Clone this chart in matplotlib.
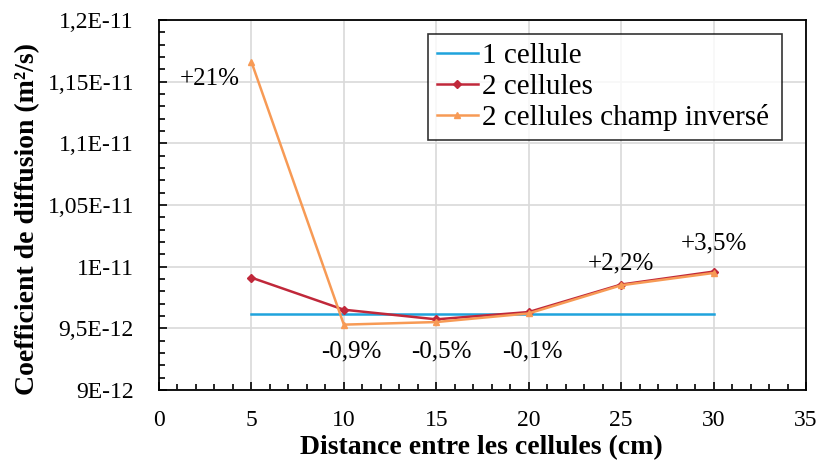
import numpy as np
import matplotlib.pyplot as plt
from matplotlib.ticker import MultipleLocator

distances = [5, 10, 15, 20, 25, 30]
one_cell = [9.618e-12] * 6
two_cells = [9.911e-12, 9.651e-12, 9.573e-12, 9.632e-12, 9.855e-12, 9.960e-12]
two_cells_inv = [1.166e-11, 9.530e-12, 9.551e-12, 9.621e-12, 9.849e-12, 9.949e-12]

y_ticks = [9.0e-12, 9.5e-12, 1.0e-11, 1.05e-11, 1.1e-11, 1.15e-11, 1.2e-11]
y_ticklabels = ["9E-12", "9,5E-12", "1E-11", "1,05E-11", "1,1E-11", "1,15E-11", "1,2E-11"]

annot_text = ["+21%", "-0,9%", "-0,5%", "-0,1%", "+2,2%", "+3,5%"]
annot_x = [2.76, 10.4, 15.3, 20.2, 25.0, 30.0]
annot_y = [1.152e-11, 9.31e-12, 9.31e-12, 9.31e-12, 1.0024e-11, 1.0185e-11]

plt.rcParams["font.family"] = ["Liberation Serif", "DejaVu Serif"]

fig = plt.figure(figsize=(8.2, 4.7), dpi=100)
ax = fig.add_axes([159 / 820, 80 / 470, 647 / 820, 370 / 470])

ax.plot(distances, one_cell, color="#1fa3dc", lw=1.8, label="1 cellule")
ax.plot(distances, two_cells, color="#c0283a", lw=1.8, marker="D", ms=4,
        label="2 cellules")
ax.plot(distances, two_cells_inv, color="#f79a55", lw=1.8, marker="^", ms=5,
        label="2 cellules champ inversé")

for t, x, y in zip(annot_text, annot_x, annot_y):
    ax.text(x, y, t, ha="center", va="center", fontsize=18)

ax.set_xlim(0, 35)
ax.set_ylim(9e-12, 1.2e-11)
ax.xaxis.set_major_locator(MultipleLocator(5))
ax.xaxis.set_minor_locator(MultipleLocator(1))
ax.set_yticks(y_ticks)
ax.set_yticklabels(y_ticklabels)
ax.yaxis.set_minor_locator(MultipleLocator(1e-13))
ax.tick_params(which="both", direction="in", labelsize=17, top=False, right=False,
               width=1.2)
ax.tick_params(which="major", length=6)
ax.tick_params(which="minor", length=4)
ax.tick_params(axis="x", which="major", pad=14.5)
ax.tick_params(axis="y", which="major", pad=18)
ax.grid(True, which="major", color="#d9d9d9", lw=1.2)
ax.set_axisbelow(True)
for s in ax.spines.values():
    s.set_linewidth(1.3)
    s.set_color("black")

ax.set_xlabel("Distance entre les cellules (cm)", fontsize=20, fontweight="bold")
ax.set_ylabel("Coefficient de diffusion (m²/s)", fontsize=20, fontweight="bold")
ax.xaxis.set_label_coords(0.499, -0.122)
ax.yaxis.set_label_coords(-0.184, 0.462)

leg = ax.legend(loc="upper left", bbox_to_anchor=(0.4158, 0.0, 0.5471, 0.962),
                mode="expand", fontsize=21, frameon=True, fancybox=False,
                handlelength=1.4, handletextpad=0.15, borderpad=0.3,
                labelspacing=0.15, borderaxespad=0)
leg.get_frame().set_edgecolor("black")
leg.get_frame().set_linewidth(1.2)

fig.savefig("out.png", dpi=100)
